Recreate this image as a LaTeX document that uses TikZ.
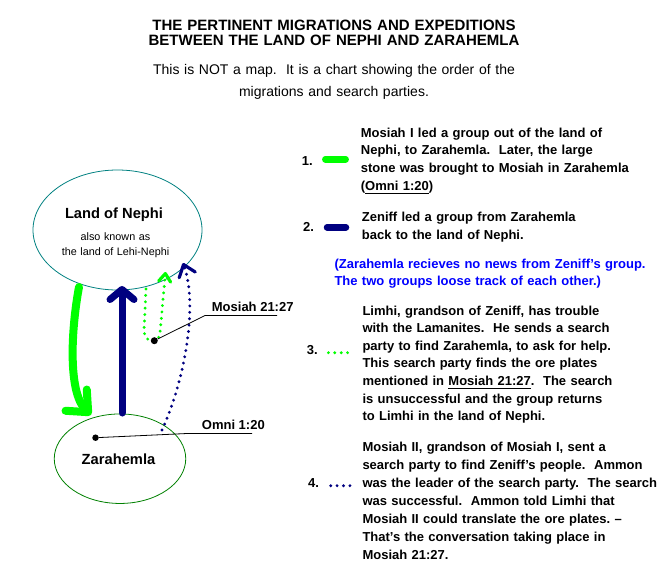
\documentclass[tikz,border=0pt]{standalone}
\usepackage{fontspec}
\setmainfont{Liberation Sans}
\usetikzlibrary{shapes.geometric,arrows.meta}
\definecolor{limegreen}{RGB}{0,255,0}
\definecolor{zeniffblue}{RGB}{0,0,128}
\definecolor{nephiteal}{RGB}{0,128,128}
\definecolor{zaragreen}{RGB}{0,128,0}
\definecolor{noteblue}{RGB}{0,0,255}
\newcommand{\ulref}[2][4]{\setbox0=\hbox{#2}\rlap{\rule[-#1pt]{\wd0}{0.8pt}}\box0}
\frenchspacing
\begin{document}
\begin{tikzpicture}[x=1pt,y=-1pt,inner sep=0pt,
  legend/.style={font=\bfseries\fontsize{13}{17.6}\selectfont,anchor=base west,text width=315pt,align=left},
  lbl/.style={font=\bfseries\fontsize{13}{15}\selectfont,anchor=base west},
  land/.style={ellipse,draw,line width=0.8pt},
  trek/.style={line width=8pt,line cap=round,line join=round},
  search/.style={line width=3.2pt,line cap=round,dash pattern=on 0pt off 6.4pt}]
\useasboundingbox (0,0) rectangle (672,576);
%Titel
\node[font=\bfseries\fontsize{15}{15}\selectfont,anchor=base,text width=420pt,align=center] (title) at (334,30.7) {THE PERTINENT MIGRATIONS AND EXPEDITIONS\\BETWEEN THE LAND OF NEPHI AND ZARAHEMLA};
\node[font=\fontsize{14}{22}\selectfont,anchor=base,text width=420pt,align=center] (subtitle) at (334,74.5) {This is NOT a map.\ \ It is a chart showing the order of the\\migrations and search parties.};
%Nephi und Zarahemla
\node[land,draw=nephiteal,minimum width=169pt,minimum height=120pt] (nephi) at (117.5,230) {};
\node[land,draw=zaragreen,minimum width=131.5pt,minimum height=89.5pt] (zara) at (120,458.7) {};
\node[font=\bfseries\fontsize{14.7}{16}\selectfont,anchor=base] (nephiname) at (114,218.3) {Land of Nephi};
\node[font=\fontsize{10.8}{14.3}\selectfont,anchor=base,text width=130pt,align=center] (aka) at (115.5,240.7) {also known as\\the land of Lehi-Nephi};
\node[font=\bfseries\fontsize{14.7}{16}\selectfont,anchor=base] (zaraname) at (118.5,464.3) {Zarahemla};
%Wanderungen
\coordinate (m1a) at (79,287); \coordinate (m1b) at (91,415);
\coordinate (z2a) at (122,413); \coordinate (z2b) at (122,286);
\coordinate (l3a) at (146,289); \coordinate (l3b) at (165.5,272);
\coordinate (a4a) at (162,430); \coordinate (a4b) at (183,263);
\draw[trek,limegreen,-{Straight Barb[round,length=17pt,width=30pt]}] (m1a) .. controls (71,330) and (68,392) .. (m1b);
\draw[trek,zeniffblue,line width=7pt,-{Straight Barb[round,length=10pt,width=24pt]}] (z2a) -- (z2b);
\draw[search,limegreen,-{Straight Barb[round,length=8pt,width=12pt]}] (l3a) -- (144,331) .. controls (145,344) and (159,344) .. (160,333) -- (l3b);
\draw[search,zeniffblue,-{Straight Barb[round,length=11pt,width=17pt]}] (a4a) .. controls (185,380) and (198,305) .. (a4b);
%Platten und Stein
\node[circle,fill,minimum size=7pt] (plates) at (154.3,340.7) {};
\node[circle,fill,minimum size=6.5pt] (stone) at (95.5,437.7) {};
\node[lbl] (mosiahref) at (211.7,311.7) {Mosiah 21:27};
\node[lbl] (omniref) at (201.7,429.3) {Omni 1:20};
\coordinate (mk) at (205,315.5); \coordinate (me) at (277,315.5);
\coordinate (ok) at (187,433.5); \coordinate (oe) at (252,433.5);
\draw[line width=0.8pt] (plates) -- (mk) -- (me);
\draw[line width=0.8pt] (stone) -- (ok) -- (oe);
%Legende
\node[lbl] (n1) at (301.7,165) {1.};
\draw[trek,limegreen,line width=6.5pt] (325.3,159.3) -- (345.7,159.3);
\node[legend] (t1) at (360.7,137.3) {Mosiah I led a group out of the land of\\Nephi, to Zarahemla.\ \ Later, the large\\stone was brought to Mosiah in Zarahemla\\(\ulref{Omni 1:20})};
\node[lbl] (n2) at (303,231.7) {2.};
\draw[trek,zeniffblue,line width=6.5pt] (327,227.3) -- (346,227.3);
\node[legend] (t2) at (361.7,221.7) {Zeniff led a group from Zarahemla\\back to the land of Nephi.};
\node[legend,text=noteblue,text width=330pt] (note) at (334.3,268.3) {(Zarahemla recieves no news from Zeniff's group.\\The two groups loose track of each other.)};
\node[lbl] (n3) at (306.7,354.3) {3.};
\draw[search,limegreen] (328.4,352.7) -- (348.1,352.7);
\node[legend] (t3) at (362.3,315) {Limhi, grandson of Zeniff, has trouble\\with the Lamanites.\ \ He sends a search\\party to find Zarahemla, to ask for help.\\This search party finds the ore plates\\mentioned in \ulref[3.5]{Mosiah 21:27}.\ \ The search\\is unsuccessful and the group returns\\to Limhi in the land of Nephi.};
\node[lbl] (n4) at (308,487.7) {4.};
\draw[search,zeniffblue] (330.7,485.7) -- (350.4,485.7);
\node[legend,font=\bfseries\fontsize{13}{17.9}\selectfont] (t4) at (362.3,451.7) {Mosiah II, grandson of Mosiah I, sent a\\search party to find Zeniff's people.\ \ Ammon\\was the leader of the search party.\ \ The search\\was successful.\ \ Ammon told Limhi that\\Mosiah II could translate the ore plates. --\\That's the conversation taking place in\\Mosiah 21:27.};
\end{tikzpicture}
\end{document}
